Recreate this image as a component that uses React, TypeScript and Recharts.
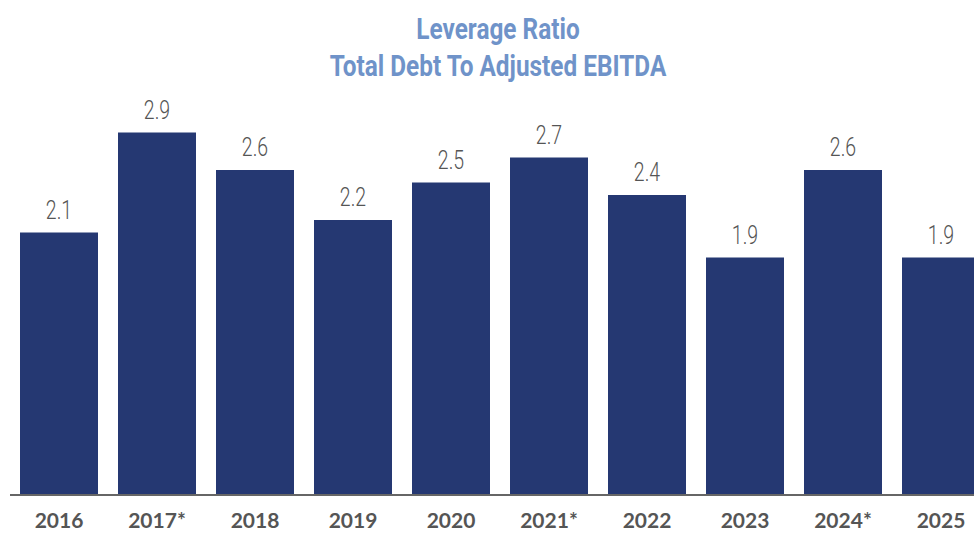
import React from "react";
import { BarChart, Bar, XAxis, YAxis, LabelList } from "recharts";

const years = ["2016", "2017*", "2018", "2019", "2020", "2021*", "2022", "2023", "2024*", "2025"];
const leverage = [2.1, 2.9, 2.6, 2.2, 2.5, 2.7, 2.4, 1.9, 2.6, 1.9];

const data = years.map((year, i) => ({ year, value: leverage[i] }));

// no condensed fonts installed, so squeeze Roboto horizontally
const ValueLabel = (props: any) => {
  const { x, y, width, value } = props;
  const cx = x + width / 2;
  return (
    <text
      transform={`translate(${cx}, ${y - 14}) scale(0.78, 1)`}
      textAnchor="middle"
      fill="#555"
      fontSize={25}
      fontWeight={300}
      fontFamily="Roboto, sans-serif"
    >
      {Number(value).toFixed(1)}
    </text>
  );
};

export default function App() {
  return (
    <div
      style={{
        position: "fixed",
        left: 0,
        top: 0,
        width: 974,
        height: 533,
        overflow: "hidden",
        background: "#fff",
      }}
    >
      <div
        style={{
          position: "absolute",
          left: 0,
          top: 11,
          width: 996,
          textAlign: "center",
          fontFamily: "Roboto, sans-serif",
          fontWeight: 700,
          fontSize: 29,
          lineHeight: "37px",
          color: "#6f93c9",
          transform: "scaleX(0.84)",
          transformOrigin: "498px 0",
        }}
      >
        <div>Leverage Ratio</div>
        <div>Total Debt To Adjusted EBITDA</div>
      </div>
      <div style={{ position: "absolute", left: 0, top: 0 }}>
        <BarChart
          width={990}
          height={533}
          data={data}
          margin={{ top: 95, right: 0, bottom: 0, left: 10 }}
          barCategoryGap={10}
        >
          <YAxis hide domain={[0, 3.2]} />
          <XAxis
            dataKey="year"
            height={38}
            axisLine={{ stroke: "#666", strokeWidth: 2 }}
            tickLine={false}
            tickSize={0}
            tickMargin={18}
            interval={0}
            tick={{ fill: "#555", fontSize: 21, fontWeight: 700, fontFamily: "Lato, sans-serif" }}
          />
          <Bar dataKey="value" fill="#253872" isAnimationActive={false}>
            <LabelList dataKey="value" position="top" content={ValueLabel} />
          </Bar>
        </BarChart>
      </div>
    </div>
  );
}
